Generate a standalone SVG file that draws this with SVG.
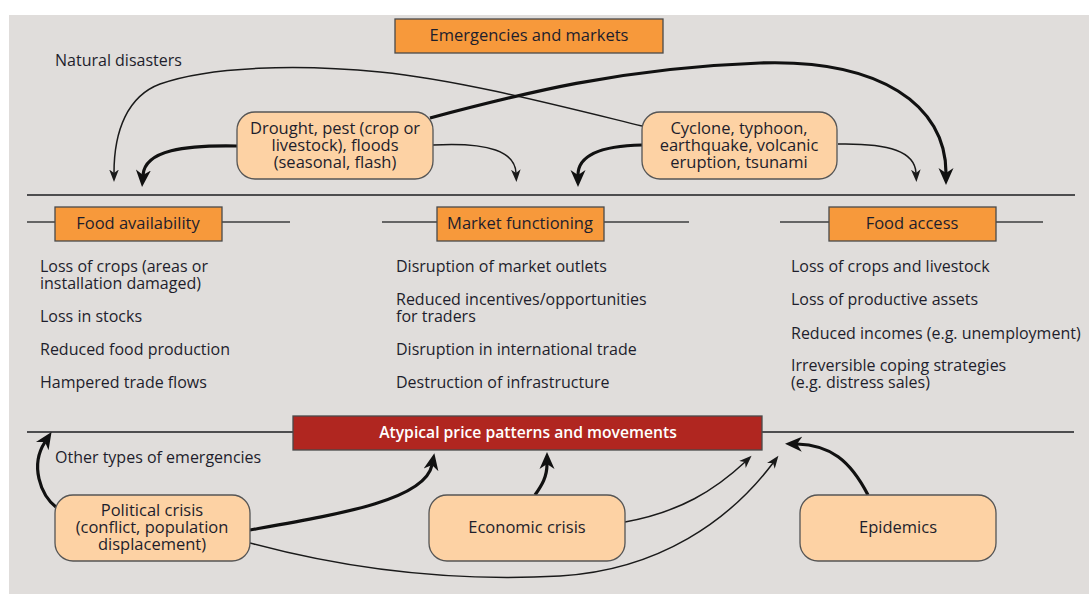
<svg xmlns="http://www.w3.org/2000/svg" width="1089" height="596" viewBox="0 0 1089 596">
  <defs>
    <style>
      .panel { fill: #e0dddb; }
      .rule { stroke: #4d4d4f; stroke-width: 2; fill: none; }
      .hair { stroke: #3c3c3e; stroke-width: 1.3; fill: none; }
      .hdr { fill: #f7993b; stroke: #4a4a4a; stroke-width: 1.3; }
      .node { fill: #fdd2a4; stroke: #555; stroke-width: 1.3; }
      .alert { fill: #b02620; stroke: #4a4a4a; stroke-width: 1.3; }
      text { font-family: "Open Sans", "Liberation Sans", sans-serif; font-size: 16px; fill: #1e1e2c; }
      .c { text-anchor: middle; }
      .big { font-size: 16.5px; }
      .w { fill: #ffffff; font-weight: 600; font-size: 15.7px; }
      .thin { stroke: #1a1a1a; stroke-width: 1.5; fill: none; marker-end: url(#headThin); }
      .thick { stroke: #111; stroke-width: 3.2; fill: none; marker-end: url(#headThick); }
    </style>
    <marker id="headThin" markerUnits="userSpaceOnUse" markerWidth="14" markerHeight="12" refX="3.5" refY="0" orient="auto" viewBox="0 -6 14 12">
      <path d="M0,-4.8 L12.5,0 L0,4.8 L3.5,0 z" fill="#1a1a1a"/>
    </marker>
    <marker id="headThick" markerUnits="userSpaceOnUse" markerWidth="20" markerHeight="18" refX="5" refY="0" orient="auto" viewBox="0 -9 20 18">
      <path d="M0,-7.5 L17,0 L0,7.5 L5,0 z" fill="#111"/>
    </marker>
  </defs>

  <rect class="panel" x="9" y="15" width="1080" height="579"/>

  <!-- section rules -->
  <g id="rules">
    <line class="rule" x1="27" y1="195" x2="1075" y2="195"/>
    <line class="rule" x1="27" y1="432" x2="1074" y2="432"/>
    <line class="hair" x1="27" y1="222" x2="290" y2="222"/>
    <line class="hair" x1="382" y1="222" x2="689" y2="222"/>
    <line class="hair" x1="780" y1="222" x2="1043" y2="222"/>
  </g>

  <!-- title -->
  <g id="title">
    <rect class="hdr" x="395" y="19" width="268" height="34"/>
    <text class="c big" x="529" y="41">Emergencies and markets</text>
  </g>

  <text id="lbl-natural" x="55" y="66">Natural disasters</text>
  <text id="lbl-other" x="55" y="463">Other types of emergencies</text>

  <!-- connectors -->
  <g id="connectors">
    <path class="thin" d="M642,126 C560,106 460,80 380,72 C300,64 210,66 160,84 C128,96 114,130 114,173"/>
    <path class="thick" d="M430,118 C520,94 620,68 760,63 C880,59 946,105 946,173"/>
    <path class="thick" d="M237,146 C185,145 145,150 143,175"/>
    <path class="thin" d="M433,145 C490,142 515,152 516,173"/>
    <path class="thick" d="M642,145 C595,146 578,158 578,175"/>
    <path class="thin" d="M838,144 C890,143 915,152 916,173"/>

    <path class="thick" d="M57,508 C40,495 30,465 45,442"/>
    <path class="thick" d="M250,530 C340,514 425,500 432,465"/>
    <path class="thick" d="M535,495 C542,485 547,477 547,464"/>
    <path class="thin" d="M625,522 C680,512 715,490 745,462"/>
    <path class="thin" d="M250,543 C350,570 450,582 560,576 C660,570 730,520 773,463"/>
    <path class="thick" d="M868,495 C850,460 830,445 797,444"/>
  </g>

  <!-- hazard nodes -->
  <g id="drought">
    <rect class="node" x="237" y="112" width="196" height="67" rx="18"/>
    <text class="c big" x="335" y="134">Drought, pest (crop or<tspan x="335" dy="17">livestock), floods</tspan><tspan x="335" dy="17">(seasonal, flash)</tspan></text>
  </g>
  <g id="cyclone">
    <rect class="node" x="642" y="112" width="195" height="67" rx="18"/>
    <text class="c big" x="739" y="134">Cyclone, typhoon,<tspan x="739" dy="17">earthquake, volcanic</tspan><tspan x="739" dy="17">eruption, tsunami</tspan></text>
  </g>

  <!-- column: food availability -->
  <g id="food-availability">
    <rect class="hdr" x="55" y="207" width="167" height="34"/>
    <text class="c big" x="138" y="229">Food availability</text>
    <text x="40" y="272">Loss of crops (areas or<tspan x="40" dy="17">installation damaged)</tspan></text>
    <text x="40" y="322">Loss in stocks</text>
    <text x="40" y="355">Reduced food production</text>
    <text x="40" y="388">Hampered trade flows</text>
  </g>

  <!-- column: market functioning -->
  <g id="market-functioning">
    <rect class="hdr" x="437" y="207" width="167" height="34"/>
    <text class="c big" x="520" y="229">Market functioning</text>
    <text x="396" y="272">Disruption of market outlets</text>
    <text x="396" y="305">Reduced incentives/opportunities<tspan x="396" dy="17">for traders</tspan></text>
    <text x="396" y="355">Disruption in international trade</text>
    <text x="396" y="388">Destruction of infrastructure</text>
  </g>

  <!-- column: food access -->
  <g id="food-access">
    <rect class="hdr" x="829" y="207" width="167" height="34"/>
    <text class="c big" x="912" y="229">Food access</text>
    <text x="791" y="272">Loss of crops and livestock</text>
    <text x="791" y="305">Loss of productive assets</text>
    <text x="791" y="339">Reduced incomes (e.g. unemployment)</text>
    <text x="791" y="371">Irreversible coping strategies<tspan x="791" dy="17">(e.g. distress sales)</tspan></text>
  </g>

  <!-- price outcome -->
  <g id="price-patterns">
    <rect class="alert" x="293" y="416" width="469" height="34"/>
    <text class="c w" x="528" y="438">Atypical price patterns and movements</text>
  </g>

  <!-- other emergencies -->
  <g id="political">
    <rect class="node" x="55" y="495" width="195" height="66" rx="18"/>
    <text class="c big" x="152" y="516">Political crisis<tspan x="152" dy="17">(conflict, population</tspan><tspan x="152" dy="17">displacement)</tspan></text>
  </g>
  <g id="economic">
    <rect class="node" x="429" y="495" width="196" height="66" rx="18"/>
    <text class="c big" x="527" y="533">Economic crisis</text>
  </g>
  <g id="epidemics">
    <rect class="node" x="800" y="495" width="196" height="66" rx="18"/>
    <text class="c big" x="898" y="533">Epidemics</text>
  </g>
</svg>
